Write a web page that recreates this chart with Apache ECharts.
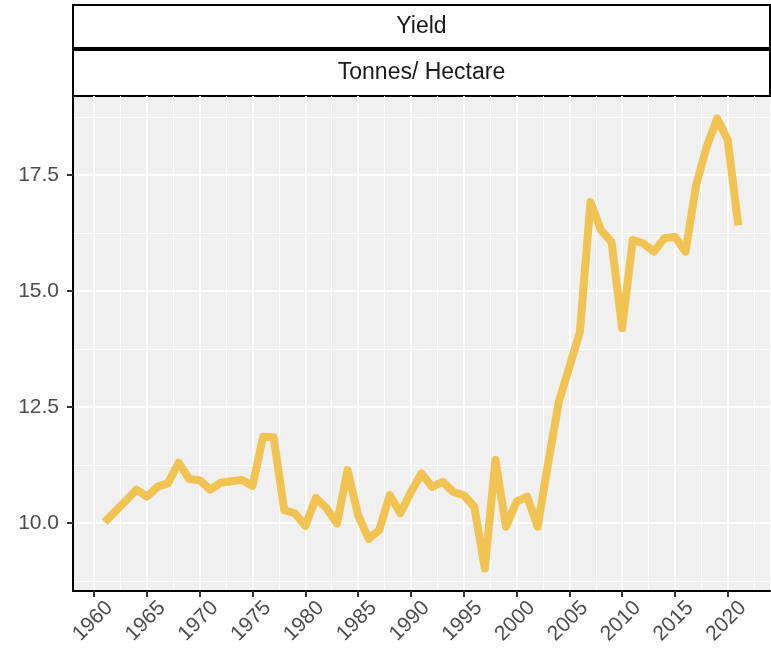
<!DOCTYPE html>
<html>
<head>
<meta charset="utf-8">
<script src="https://cdn.jsdelivr.net/npm/echarts@6/dist/echarts.min.js"></script>
<style>
  html, body { margin: 0; padding: 0; background: #fff; }
  #yield { width: 771px; height: 657px; }
</style>
</head>
<body>
<div id="yield"></div>
<script>
var years = [1961, 1962, 1963, 1964, 1965, 1966, 1967, 1968, 1969, 1970,
    1971, 1972, 1973, 1974, 1975, 1976, 1977, 1978, 1979, 1980,
    1981, 1982, 1983, 1984, 1985, 1986, 1987, 1988, 1989, 1990,
    1991, 1992, 1993, 1994, 1995, 1996, 1997, 1998, 1999, 2000,
    2001, 2002, 2003, 2004, 2005, 2006, 2007, 2008, 2009, 2010,
    2011, 2012, 2013, 2014, 2015, 2016, 2017, 2018, 2019, 2020, 2021];
var tonnesPerHa = [10.02, 10.25, 10.48, 10.72, 10.57, 10.78, 10.86, 11.30, 10.95, 10.92,
    10.72, 10.87, 10.90, 10.93, 10.80, 11.86, 11.85, 10.28, 10.21, 9.94,
    10.54, 10.32, 9.99, 11.14, 10.17, 9.66, 9.85, 10.60, 10.21, 10.67,
    11.07, 10.78, 10.89, 10.67, 10.60, 10.35, 9.02, 11.36, 9.92, 10.46,
    10.57, 9.92, 11.30, 12.61, 13.36, 14.12, 16.92, 16.31, 16.06, 14.20,
    16.10, 16.03, 15.85, 16.14, 16.17, 15.85, 17.28, 18.11, 18.72, 18.25, 16.42];
var xTicks = [1960, 1965, 1970, 1975, 1980, 1985, 1990, 1995, 2000, 2005, 2010, 2015, 2020];
var xMinor = [1962.5, 1967.5, 1972.5, 1977.5, 1982.5, 1987.5, 1992.5, 1997.5, 2002.5, 2007.5, 2012.5, 2017.5, 2022.5];
var yTicks = [10, 12.5, 15, 17.5];
var yMinor = [8.75, 11.25, 13.75, 16.25, 18.75];
var stripTitles = ['Yield', 'Tonnes/ Hectare'];

var yieldChart = echarts.init(document.getElementById('yield'));

var lab = { fontFamily: 'Liberation Sans', fontSize: 21, color: '#4D4D4D' };

// minor axes only draw the thinner grid lines
function minorAxis(min, max, vals) {
    return {
        type: 'value', min: min, max: max,
        axisLine: { show: false },
        axisTick: { show: false, customValues: vals },
        axisLabel: { show: false },
        splitLine: { show: true, lineStyle: { color: '#fff', width: 1 } }
    };
}

var option = {
    animation: false,
    grid: {
        left: 73, top: 96, width: 697, height: 495,
        show: true, backgroundColor: '#F0F0F0', borderWidth: 0
    },
    xAxis: [
        {
            type: 'value', min: 1958, max: 2024,
            axisLine: { show: true, onZero: false, lineStyle: { color: '#000', width: 2 } },
            axisTick: { show: true, length: 6, customValues: xTicks, lineStyle: { color: '#333', width: 2 } },
            axisLabel: Object.assign({ rotate: 45, margin: 7, verticalAlign: 'top', padding: [5, -6, 0, 0],
                customValues: xTicks,
                formatter: function (v) { return String(v); } }, lab),
            splitLine: { show: true, lineStyle: { color: '#fff', width: 2 } }
        },
        minorAxis(1958, 2024, xMinor)
    ],
    yAxis: [
        {
            type: 'value', min: 8.535, max: 19.205,
            axisLine: { show: true, onZero: false, lineStyle: { color: '#000', width: 2 } },
            axisTick: { show: true, length: 6, customValues: yTicks, lineStyle: { color: '#333', width: 2 } },
            axisLabel: Object.assign({ margin: 14, customValues: yTicks,
                formatter: function (v) { return v.toFixed(1); } }, lab),
            splitLine: { show: true, lineStyle: { color: '#fff', width: 2 } }
        },
        minorAxis(8.535, 19.205, yMinor)
    ],
    graphic: [
        { type: 'rect', shape: { x: 73, y: 5, width: 697, height: 43 },
          style: { fill: '#fff', stroke: '#000', lineWidth: 2 } },
        { type: 'text', x: 421.5, y: 27,
          style: { text: stripTitles[0], fontFamily: 'Liberation Sans', fontSize: 23, fill: '#1A1A1A',
                   align: 'center', verticalAlign: 'middle' } },
        { type: 'rect', shape: { x: 73, y: 50, width: 697, height: 46 },
          style: { fill: '#fff', stroke: '#000', lineWidth: 2 } },
        { type: 'text', x: 421.5, y: 73,
          style: { text: stripTitles[1], fontFamily: 'Liberation Sans', fontSize: 23, fill: '#1A1A1A',
                   align: 'center', verticalAlign: 'middle' } }
    ],
    series: [{
        type: 'line',
        xAxisIndex: 0, yAxisIndex: 0,
        data: years.map(function (yr, i) { return [yr, tonnesPerHa[i]]; }),
        showSymbol: false,
        lineStyle: { color: '#F1C353', width: 8, join: 'round', cap: 'butt' },
        z: 5
    }]
};
yieldChart.setOption(option);
</script>
</body>
</html>
